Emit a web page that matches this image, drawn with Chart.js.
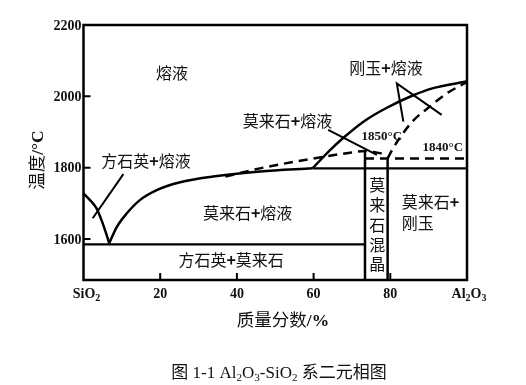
<!DOCTYPE html>
<html><head><meta charset="utf-8">
<script src="https://cdn.jsdelivr.net/npm/chart.js@4/dist/chart.umd.min.js"></script>
<style>html,body{margin:0;padding:0;background:#fff}canvas{display:block}</style>
</head><body>
<canvas id="c" width="526" height="385"></canvas>
<script>
// ---- axis data ----
const xTicks = [20, 40, 60, 80];
const yTicks = [1600, 1800, 2000, 2200];
const xMin = 0, xMax = 100, yMin = 1485, yMax = 2200;

// ---- phase boundaries (x: Al2O3 mass %, y: °C) ----
const cristobaliteLiquidus = [[0,1728],[1.7,1709],[3.4,1686],[4.7,1653],[5.9,1616],[6.7,1588]];
const mulliteLiquidus = [[6.7,1588],[8.7,1634],[11.3,1672],[14.7,1709],[19.1,1737],[25.2,1759],[33.8,1775],[46,1789],[59.7,1798]];
const corundumLiquidus = [[59.7,1798],[64.3,1849],[67.7,1883],[73,1929],[79.1,1968],[86,2003],[91.2,2023],[100,2042]];
const eutecticLine = [[0,1585],[73.4,1585]];
const mulliteCorundumLine = [[59.7,1798],[100,1798]];
const mulliteSSLeft = [[73.4,1485],[73.4,1847]];
const mulliteSSRight = [[79.3,1485],[79.3,1826]];
const metastableMullite = [[37,1775],[46,1798],[57.3,1821],[69.5,1842],[73.4,1847],[76,1843],[78,1838],[79.3,1826]];
const metastableCorundum = [[79.3,1826],[80.5,1850],[82.5,1884],[86,1932],[90.4,1972],[94.7,2008],[100,2040]];
const line1840 = [[73.4,1826],[100,1826]];

// ---- leader lines ----
const leaderCristobalite = [[10.4,1782],[2.4,1658]];
const leaderMulliteMelt = [[63.8,1906],[76.5,1836]];
const leaderCorundum = [[83.4,1929],[81.7,2036],[93.4,1948]];

// ---- text ----
const regionTexts = ['熔液', '方石英+熔液', '莫来石+熔液', '刚玉+熔液', '莫来石+熔液', '方石英+莫来石'];
const regionAnchors = [[23.1,2065],[16.3,1819],[53.2,1929],[78.9,2079],[42.8,1672],[38.5,1541]];
const tempTexts = ['1850°C', '1840°C'];
const tempAnchors = [[77.8,1886],[93.7,1855]];
const verticalText = ['莫','来','石','混','晶'];
const verticalAnchors = [[76.6,1751],[76.6,1695],[76.6,1639],[76.6,1583],[76.6,1530]];
const rightRegionLines = ['莫来石+', '刚玉'];
const rightRegionAnchors = [[83,1702],[83,1644]];

const toPts = a => a.map(p => ({x: p[0], y: p[1]}));
const solid = (d, w, curve) => ({data: toPts(d), showLine: true, borderColor: '#000', borderWidth: w, pointRadius: 0, fill: false, cubicInterpolationMode: curve ? 'monotone' : 'default', tension: 0});
const dashed = (d, w, curve) => Object.assign(solid(d, w, curve), {borderDash: [9, 6]});

const CJK = "'Noto Sans CJK SC'";
const SERIF = "'Liberation Serif','Noto Sans CJK SC'";

function drawRich(ctx, parts, x, y, align, size) {
  // parts: [text, font, dy]; y is visual middle; drawn on alphabetic baseline
  let w = 0;
  parts.forEach(p => { ctx.font = p[1]; w += ctx.measureText(p[0]).width; });
  let cx = align === 'center' ? x - w / 2 : (align === 'right' ? x - w : x);
  const base = y + size * 0.36;
  ctx.textAlign = 'left';
  ctx.textBaseline = 'alphabetic';
  parts.forEach(p => {
    ctx.font = p[1];
    ctx.fillText(p[0], cx, base + (p[2] || 0));
    cx += ctx.measureText(p[0]).width;
  });
}

function labelParts(t, size) {
  const parts = [];
  t.split(/(\+)/).forEach(s => {
    if (!s) return;
    if (s === '+') parts.push(['+', 'bold ' + size + 'px ' + CJK, 0]);
    else parts.push([s, size + 'px ' + CJK, 0]);
  });
  return parts;
}

const decor = {
  id: 'decor',
  afterDatasetsDraw(chart) {
    const {ctx, chartArea: a, scales: {x, y}} = chart;
    const X = v => x.getPixelForValue(v), Y = v => y.getPixelForValue(v);
    ctx.save();
    ctx.fillStyle = '#111';
    ctx.strokeStyle = '#000';
    ctx.lineWidth = 2.5;
    ctx.strokeRect(a.left, a.top, a.right - a.left, a.bottom - a.top);
    ctx.lineWidth = 2;
    ctx.beginPath();
    xTicks.forEach(v => { ctx.moveTo(X(v), a.bottom); ctx.lineTo(X(v), a.bottom - 7); });
    yTicks.forEach(v => { if (v < yMax) { ctx.moveTo(a.left, Y(v)); ctx.lineTo(a.left + 7, Y(v)); } });
    ctx.stroke();

    // tick labels
    const tf = 'bold 14px ' + SERIF;
    ctx.font = tf; ctx.textBaseline = 'middle';
    ctx.textAlign = 'right';
    yTicks.forEach(v => ctx.fillText(String(v), a.left - 2, Y(v) + 1));
    ctx.textAlign = 'center';
    xTicks.forEach(v => ctx.fillText(String(v), X(v), a.bottom + 14));
    const sf = 'bold 10px ' + SERIF;
    drawRich(ctx, [['SiO', tf], ['2', sf, 3]], X(xMin) + 3, a.bottom + 13, 'center', 14);
    drawRich(ctx, [['Al', tf], ['2', sf, 3], ['O', tf], ['3', sf, 3]], X(xMax) + 2, a.bottom + 13, 'center', 14);

    // axis titles
    drawRich(ctx, [['质量分数', '17.5px ' + CJK], ['/%', 'bold 17.5px ' + SERIF]], 283, 320, 'center', 17.5);
    ctx.save();
    ctx.translate(37, 160);
    ctx.rotate(-Math.PI / 2);
    drawRich(ctx, [['温度', '17.5px ' + CJK], ['/°C', 'bold 17.5px ' + SERIF]], 0, 0, 'center', 17.5);
    ctx.restore();

    // caption
    const cf = '17px ' + SERIF, cs = '11px ' + SERIF;
    drawRich(ctx, [['图 1-1 Al', cf], ['2', cs, 3], ['O', cf], ['3', cs, 3], ['-SiO', cf], ['2', cs, 3], [' 系二元相图', cf]], 279, 372, 'center', 17);

    // region labels
    regionTexts.forEach((t, i) => drawRich(ctx, labelParts(t, 16), X(regionAnchors[i][0]), Y(regionAnchors[i][1]), 'center', 16));
    ctx.font = 'bold 13px ' + SERIF; ctx.textAlign = 'center'; ctx.textBaseline = 'middle';
    tempTexts.forEach((t, i) => ctx.fillText(t, X(tempAnchors[i][0]), Y(tempAnchors[i][1])));
    ctx.font = '16px ' + CJK;
    verticalText.forEach((t, i) => ctx.fillText(t, X(verticalAnchors[i][0]), Y(verticalAnchors[i][1])));
    rightRegionLines.forEach((t, i) => drawRich(ctx, labelParts(t, 16), X(rightRegionAnchors[i][0]), Y(rightRegionAnchors[i][1]), 'left', 16));
    ctx.restore();
  }
};

new Chart(document.getElementById('c'), {
  type: 'scatter',
  data: {
    datasets: [
      solid(cristobaliteLiquidus, 2.5, true),
      solid(mulliteLiquidus, 2.5, true),
      solid(corundumLiquidus, 2.5, true),
      solid(eutecticLine, 2.2, false),
      solid(mulliteCorundumLine, 2.2, false),
      solid(mulliteSSLeft, 2.5, false),
      solid(mulliteSSRight, 2.5, false),
      dashed(metastableMullite, 2.5, true),
      dashed(metastableCorundum, 2.5, true),
      dashed(line1840, 2.5, false),
      solid(leaderCristobalite, 2, false),
      solid(leaderMulliteMelt, 2, false),
      solid(leaderCorundum, 2, false)
    ]
  },
  options: {
    responsive: false,
    animation: false,
    layout: {padding: {left: 83.5, top: 25, right: 59, bottom: 105}},
    plugins: {legend: {display: false}, tooltip: {enabled: false}},
    scales: {
      x: {type: 'linear', min: xMin, max: xMax, display: false},
      y: {type: 'linear', min: yMin, max: yMax, display: false}
    }
  },
  plugins: [decor]
});
</script>
</body></html>
